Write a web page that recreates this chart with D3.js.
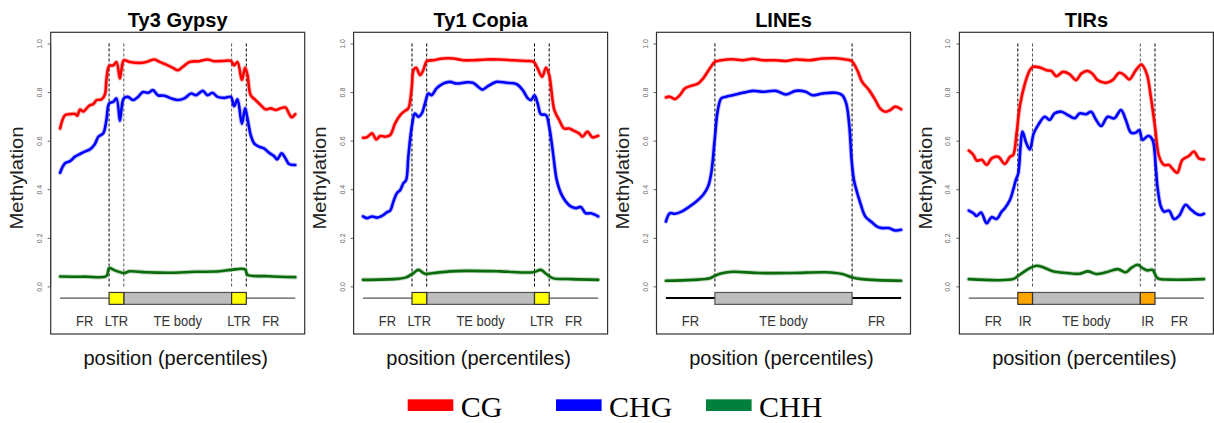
<!DOCTYPE html>
<html>
<head>
<meta charset="utf-8">
<script src="https://cdn.jsdelivr.net/npm/d3@7"></script>
<style>
  html, body { margin: 0; padding: 0; background: #fff; }
  svg { display: block; }
</style>
</head>
<body>
<svg id="chart" width="1214" height="423"></svg>
<script>
// ---------------- DATA ----------------
const panelTitles = ["Ty3 Gypsy", "Ty1 Copia", "LINEs", "TIRs"];
const seriesNames = ["CG", "CHG", "CHH"];
const yTicks = [0.0, 0.2, 0.4, 0.6, 0.8, 1.0];
const xExtent = [0, 96];

// region boundaries (percentile bins) per panel
const gypsyBounds = [20, 26, 70, 76];
const copiaBounds = [20, 26, 70, 76];
const linesBounds = [20, 76];
const tirsBounds  = [20, 26, 70, 76];

// region labels: [centre bin, text]
const gypsyLabels = [[10, "FR"], [23, "LTR"], [48, "TE body"], [73, "LTR"], [86, "FR"]];
const copiaLabels = [[10, "FR"], [23, "LTR"], [48, "TE body"], [73, "LTR"], [86, "FR"]];
const linesLabels = [[10, "FR"], [48, "TE body"], [86, "FR"]];
const tirsLabels  = [[10, "FR"], [23, "IR"], [48, "TE body"], [73, "IR"], [86, "FR"]];

// Ty3 Gypsy
const gypsyCG = [[0,0.65],[2,0.705],[4.1,0.709],[6.1,0.71],[7,0.703],[8.1,0.728],[9.5,0.72],[11,0.735],[12.2,0.746],[13.5,0.75],[14.9,0.767],[16.9,0.77],[18.3,0.79],[18.9,0.85],[20,0.907],[21.7,0.91],[23,0.924],[24.4,0.856],[25,0.89],[26,0.93],[28.4,0.924],[32.5,0.92],[35.2,0.924],[38.6,0.934],[40.6,0.924],[43.3,0.913],[46,0.9],[48,0.89],[50.1,0.904],[52.8,0.924],[56.8,0.927],[60.2,0.934],[62.9,0.927],[66.3,0.928],[69.7,0.928],[71,0.91],[72.4,0.924],[74.2,0.85],[75.5,0.9],[76.5,0.87],[77.8,0.787],[79.8,0.767],[81.9,0.746],[83.9,0.729],[86,0.733],[88,0.726],[90,0.733],[92,0.737],[93.4,0.712],[94.5,0.696],[96,0.709]];
const gypsyCHG = [[0,0.468],[2,0.507],[4.1,0.516],[6.1,0.534],[8.1,0.545],[10.1,0.555],[12.2,0.564],[14.2,0.586],[15.6,0.616],[17.6,0.63],[18.9,0.685],[20,0.753],[21.7,0.76],[23,0.774],[24.4,0.682],[25,0.726],[26,0.774],[27.7,0.78],[29.8,0.767],[31.8,0.78],[33.8,0.8],[35.9,0.797],[37.9,0.808],[39.9,0.787],[42.6,0.785],[45.3,0.774],[48,0.767],[50.7,0.774],[53.5,0.794],[55.5,0.787],[58.2,0.805],[60.2,0.787],[62.2,0.797],[64.3,0.78],[67,0.776],[69.7,0.78],[71,0.742],[72.4,0.77],[74.2,0.67],[75.5,0.733],[76.5,0.69],[77.8,0.623],[79.2,0.589],[81.2,0.575],[83.2,0.568],[85.3,0.55],[87.3,0.537],[88.6,0.523],[90.4,0.548],[92,0.527],[93.4,0.504],[96,0.5]];
const gypsyCHH = [[0,0.041],[10,0.04],[18.9,0.043],[20,0.075],[22.3,0.066],[26,0.055],[28.4,0.062],[35,0.058],[45,0.056],[55,0.06],[65,0.062],[69.7,0.068],[75.5,0.07],[76.5,0.048],[85,0.042],[96,0.038]];

// Ty1 Copia
const copiaCG = [[0,0.612],[1.6,0.614],[3.7,0.63],[5.4,0.605],[7,0.619],[9.1,0.616],[11.1,0.623],[13.1,0.671],[15.2,0.705],[17.2,0.723],[18.5,0.733],[19.9,0.82],[20.6,0.89],[21.7,0.9],[23.3,0.87],[24.6,0.89],[26,0.927],[28.7,0.931],[32.7,0.938],[36.8,0.938],[40.9,0.931],[44.9,0.931],[50.3,0.934],[55.8,0.934],[61.2,0.931],[66.6,0.928],[69.7,0.924],[71.3,0.897],[73.1,0.863],[74.7,0.9],[76,0.87],[78.1,0.726],[80.1,0.685],[82.1,0.65],[84.2,0.65],[86.2,0.64],[88.2,0.63],[89.6,0.616],[91.6,0.637],[93.6,0.614],[96,0.62]];
const copiaCHG = [[0,0.288],[1.6,0.281],[3.7,0.288],[5.7,0.283],[7.7,0.29],[9.7,0.305],[11.1,0.312],[12.4,0.349],[13.8,0.383],[15.2,0.397],[16.5,0.425],[17.6,0.438],[18.5,0.534],[19.9,0.657],[21.2,0.712],[22.6,0.698],[24,0.712],[25.3,0.753],[26.7,0.794],[28,0.787],[30,0.815],[32.7,0.835],[35.5,0.842],[38.2,0.835],[42.2,0.84],[44.9,0.838],[47,0.822],[48.7,0.81],[51,0.824],[54.4,0.842],[58.5,0.838],[62.6,0.833],[65.2,0.808],[67.3,0.774],[68.6,0.767],[70,0.787],[71.3,0.753],[72.6,0.709],[74.7,0.705],[76,0.657],[77.4,0.561],[78.8,0.452],[79.4,0.425],[80.8,0.383],[82.8,0.349],[84.8,0.329],[86.9,0.322],[88.9,0.327],[90.9,0.301],[93,0.301],[96,0.288]];
const copiaCHH = [[0,0.027],[13.8,0.031],[17.6,0.037],[20.6,0.055],[22.6,0.068],[25.3,0.052],[28.7,0.055],[35.5,0.062],[42.2,0.064],[55.8,0.062],[69.4,0.058],[72.6,0.068],[74.7,0.052],[77.4,0.034],[85,0.03],[96,0.027]];

// LINEs
const linesCG = [[0,0.778],[1.6,0.781],[3.7,0.771],[5.7,0.787],[7.7,0.815],[10.4,0.826],[13.1,0.835],[15.2,0.856],[17.9,0.897],[20,0.924],[22.6,0.931],[27.3,0.935],[31.4,0.931],[35.5,0.937],[39.5,0.931],[44.9,0.931],[49,0.928],[53,0.934],[58.5,0.931],[63.9,0.938],[69.3,0.939],[73.4,0.934],[75.8,0.928],[78.1,0.89],[80.1,0.842],[82.7,0.811],[85.5,0.767],[87.4,0.733],[89.6,0.719],[91.6,0.726],[93.6,0.74],[96,0.729]];
const linesCHG = [[0,0.267],[1.6,0.301],[3.7,0.299],[6.4,0.308],[9.7,0.329],[12.4,0.349],[15.2,0.377],[17.2,0.411],[18.5,0.466],[19.9,0.603],[21.2,0.726],[22.6,0.774],[24.6,0.781],[27.3,0.787],[31.4,0.797],[35.5,0.805],[39.5,0.801],[44.9,0.805],[49,0.79],[53,0.805],[57.1,0.801],[59.8,0.787],[63.9,0.794],[69.3,0.797],[72,0.787],[73.6,0.753],[74.9,0.657],[75.8,0.52],[76.7,0.44],[77.4,0.41],[79.4,0.342],[81.4,0.288],[84.2,0.263],[86.2,0.246],[88.2,0.24],[90.9,0.24],[93.6,0.23],[96,0.233]];
const linesCHH = [[0,0.023],[11.1,0.027],[17.9,0.033],[20,0.044],[23.3,0.055],[27.3,0.06],[38.2,0.055],[51.7,0.055],[65.2,0.058],[72,0.051],[75.8,0.038],[80.1,0.03],[96,0.023]];

// TIRs
const tirsCG = [[0,0.559],[1.9,0.541],[3.2,0.518],[5.3,0.521],[7.3,0.5],[9.3,0.527],[12,0.534],[14.7,0.504],[16.8,0.534],[18.1,0.541],[19.5,0.63],[20.8,0.74],[22.9,0.835],[24.9,0.89],[26.3,0.904],[29,0.901],[31.7,0.89],[33.7,0.887],[35.7,0.865],[38.4,0.883],[41.1,0.874],[43.8,0.849],[45.9,0.876],[48.6,0.887],[50.6,0.874],[52.6,0.849],[56,0.838],[58.7,0.849],[61.4,0.879],[63.5,0.87],[65.5,0.852],[68.2,0.89],[70.5,0.913],[72.6,0.876],[74.3,0.781],[76,0.657],[77.7,0.534],[79.7,0.5],[81.7,0.5],[83,0.486],[85.1,0.468],[87.1,0.52],[89.8,0.537],[91.9,0.555],[93.9,0.527],[96,0.523]];
const tirsCHG = [[0,0.312],[1.9,0.301],[3.2,0.29],[5,0.304],[7.3,0.26],[9.3,0.285],[11.4,0.278],[13.4,0.308],[14.7,0.322],[16.8,0.356],[18.1,0.397],[19.2,0.438],[20.2,0.466],[21.1,0.575],[21.9,0.637],[23.5,0.589],[24.9,0.564],[26.5,0.63],[28.3,0.664],[31,0.698],[33,0.685],[35,0.712],[37.8,0.719],[40.5,0.705],[43.2,0.692],[45.2,0.712],[47.9,0.709],[49.9,0.719],[52,0.685],[54,0.66],[56.7,0.698],[59.4,0.692],[62.1,0.726],[64.1,0.685],[66.2,0.633],[68.2,0.633],[69.6,0.644],[70.9,0.603],[73.3,0.62],[75,0.603],[76.3,0.493],[77,0.41],[78.4,0.329],[79.7,0.308],[81.7,0.312],[83.8,0.277],[85.8,0.29],[88.5,0.336],[90.5,0.318],[92.6,0.301],[94.6,0.294],[96,0.299]];
const tirsCHH = [[0,0.03],[18.1,0.03],[20.2,0.044],[22.2,0.058],[24.9,0.075],[27.6,0.085],[30.3,0.079],[34.4,0.062],[39.8,0.055],[45.2,0.052],[48.6,0.062],[52,0.051],[56,0.058],[60.8,0.071],[64.1,0.058],[66.2,0.075],[68.9,0.089],[70.9,0.075],[72.9,0.066],[75,0.068],[77,0.034],[82,0.028],[96,0.03]];

// ---------------- ASSEMBLY ----------------
const panels = [
  { title: panelTitles[0], series: [gypsyCG, gypsyCHG, gypsyCHH], bounds: gypsyBounds, labels: gypsyLabels, endColor: "#ffff00", innerGrey: true, heavy: false },
  { title: panelTitles[1], series: [copiaCG, copiaCHG, copiaCHH], bounds: copiaBounds, labels: copiaLabels, endColor: "#ffff00", innerGrey: false, heavy: false },
  { title: panelTitles[2], series: [linesCG, linesCHG, linesCHH], bounds: linesBounds, labels: linesLabels, endColor: null, innerGrey: false, heavy: true },
  { title: panelTitles[3], series: [tirsCG, tirsCHG, tirsCHH], bounds: tirsBounds, labels: tirsLabels, endColor: "#ffa500", innerGrey: true, heavy: false }
];

const lineColors = ["#ff0000", "#0000ff", "#0b6a0b"];
const legendColors = ["#ff0000", "#0000ff", "#00803c"];

const svg = d3.select("#chart");
const FONT = "'Liberation Sans', Arial, Helvetica, sans-serif";

const firstLeft = 50.7, step = 302.9, boxW = 254, boxTop = 32.3, boxH = 301.7;
const padX = (xExtent[1] - xExtent[0]) * 0.04;
const yLim = [-0.15, 1.0];
const padY = (yLim[1] - yLim[0]) * 0.04;

panels.forEach((p, i) => {
  const left = firstLeft + i * step;
  const g = svg.append("g");
  const x = d3.scaleLinear().domain([xExtent[0] - padX, xExtent[1] + padX]).range([left, left + boxW]);
  const y = d3.scaleLinear().domain([yLim[0] - padY, yLim[1] + padY]).range([boxTop + boxH, boxTop]);

  // y axis (R style: rotated labels, small ticks)
  const yAxis = d3.axisLeft(y).tickValues(yTicks).tickFormat(d3.format(".1f")).tickSize(3).tickPadding(0);
  const ax = g.append("g").attr("transform", `translate(${left},0)`).call(yAxis);
  ax.select(".domain").attr("stroke", "#666").attr("d", `M0,${y(0)}V${y(1)}`);
  ax.selectAll(".tick line").attr("stroke", "#666");
  ax.selectAll(".tick text")
    .attr("font-family", FONT).attr("font-size", 7).attr("fill", "#666")
    .attr("text-anchor", "middle").attr("x", null).attr("dy", null)
    .attr("transform", d => `translate(-9,0) rotate(-90)`);

  // dashed boundary lines
  p.bounds.forEach((b, k) => {
    const inner = p.bounds.length === 4 && (k === 1 || k === 2);
    g.append("line")
      .attr("x1", x(b)).attr("x2", x(b))
      .attr("y1", y(1.0)).attr("y2", y(-0.008))
      .attr("stroke", inner && p.innerGrey ? "#555" : "#000")
      .attr("stroke-width", 1).attr("stroke-dasharray", "3,2");
  });

  // gene model
  const trackY = y(-0.048);
  g.append("line").attr("x1", x(xExtent[0])).attr("x2", x(xExtent[1]))
    .attr("y1", trackY).attr("y2", trackY)
    .attr("stroke", p.heavy ? "#000" : "#555").attr("stroke-width", p.heavy ? 2 : 1.2);
  const bTop = y(-0.025), bBot = y(-0.074);
  const bStart = p.bounds[0], bEnd = p.bounds[p.bounds.length - 1];
  if (p.bounds.length === 4) {
    g.append("rect").attr("x", x(p.bounds[1])).attr("y", bTop).attr("width", x(p.bounds[2]) - x(p.bounds[1])).attr("height", bBot - bTop)
      .attr("fill", "#bebebe").attr("stroke", "#555").attr("stroke-width", 1.2);
    [[p.bounds[0], p.bounds[1]], [p.bounds[2], p.bounds[3]]].forEach(([a, b]) => {
      g.append("rect").attr("x", x(a)).attr("y", bTop).attr("width", x(b) - x(a)).attr("height", bBot - bTop)
        .attr("fill", p.endColor).attr("stroke", "#333").attr("stroke-width", 1.2);
    });
  } else {
    g.append("rect").attr("x", x(bStart)).attr("y", bTop).attr("width", x(bEnd) - x(bStart)).attr("height", bBot - bTop)
      .attr("fill", "#bebebe").attr("stroke", "#555").attr("stroke-width", 1.2);
  }
  // region labels
  p.labels.forEach(([c, t]) => {
    g.append("text")
      .attr("transform", `translate(${x(c)},${y(-0.163)}) scale(1,1.18)`)
      .attr("text-anchor", "middle").attr("font-family", FONT).attr("font-size", 13)
      .attr("fill", "#333").text(t);
  });

  // methylation curves
  const line = d3.line().x(d => x(d[0])).y(d => y(d[1])).curve(d3.curveCatmullRom.alpha(0.5));
  p.series.forEach((s, k) => {
    g.append("path").datum(s).attr("d", line).attr("fill", "none")
      .attr("stroke", lineColors[k]).attr("stroke-width", 4.5).attr("stroke-opacity", 0.25)
      .attr("stroke-linejoin", "round").attr("stroke-linecap", "round");
    g.append("path").datum(s).attr("d", line).attr("fill", "none")
      .attr("stroke", lineColors[k]).attr("stroke-width", 2.6)
      .attr("stroke-linejoin", "round").attr("stroke-linecap", "round");
  });

  // plot box
  g.append("rect").attr("x", left).attr("y", boxTop).attr("width", boxW).attr("height", boxH)
    .attr("fill", "none").attr("stroke", "#333").attr("stroke-width", 1.2);

  // title
  g.append("text").attr("x", left + boxW / 2).attr("y", 27)
    .attr("text-anchor", "middle").attr("font-family", FONT).attr("font-weight", "bold")
    .attr("font-size", 20).attr("fill", "#000").text(p.title);

  // axis titles
  g.append("text").attr("x", left + boxW / 2 - 2).attr("y", 365)
    .attr("text-anchor", "middle").attr("font-family", FONT)
    .attr("font-size", 20).attr("fill", "#111").text("position (percentiles)");
  g.append("text")
    .attr("transform", `translate(${left - 27.5},178) rotate(-90) scale(1,1.1)`)
    .attr("text-anchor", "middle").attr("font-family", FONT)
    .attr("font-size", 16).attr("textLength", 103).attr("lengthAdjust", "spacingAndGlyphs")
    .attr("fill", "#222").text("Methylation");
});

// ---------------- LEGEND ----------------
const legendX = [407.7, 556, 706];
const legend = svg.append("g");
seriesNames.forEach((n, k) => {
  legend.append("rect").attr("x", legendX[k]).attr("y", 399.3).attr("width", 45.6).attr("height", 11.7)
    .attr("fill", legendColors[k]);
  legend.append("text").attr("x", legendX[k] + 53).attr("y", 416.5)
    .attr("font-family", "'Liberation Serif', 'Times New Roman', serif")
    .attr("font-size", 30).attr("fill", "#000").text(n);
});
</script>
</body>
</html>
